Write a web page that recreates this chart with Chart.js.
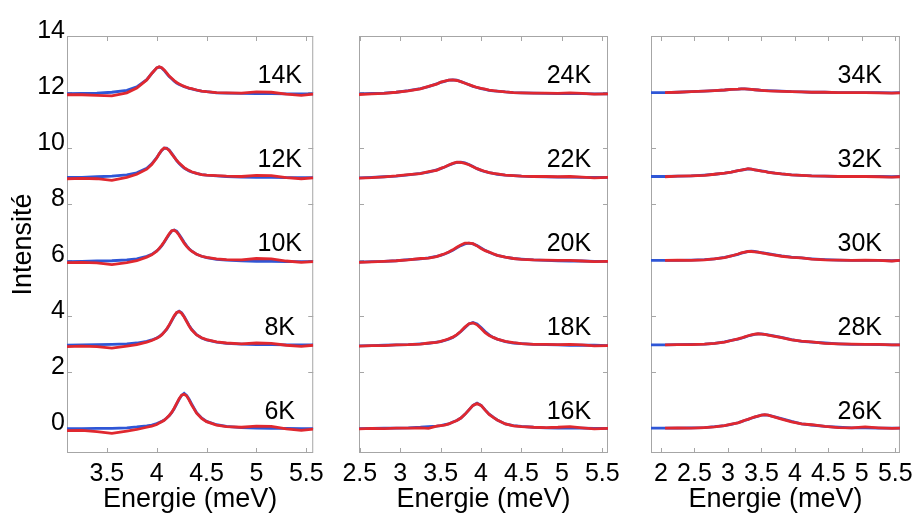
<!DOCTYPE html>
<html>
<head>
<meta charset="utf-8">
<script src="https://cdn.jsdelivr.net/npm/chart.js@4.4.0/dist/chart.umd.min.js"></script>
<style>
  body { margin: 0; background: #fff; }
  #wrap { position: relative; width: 919px; height: 514px; }
  canvas { position: absolute; top: 0; }
</style>
</head>
<body>
<div id="wrap">
  <canvas id="p1" width="330" height="514" style="left:0px"></canvas>
  <canvas id="p2" width="300" height="514" style="left:330px"></canvas>
  <canvas id="p3" width="289" height="514" style="left:630px"></canvas>
</div>
<script>
// vertical shift of each spectrum (waterfall)
const offsets = [0, 3, 6, 9, 12];
const yTicks = [0, 2, 4, 6, 8, 10, 12, 14];

// ---- panel 1 : 6K .. 14K
const temps1 = ['6K', '8K', '10K', '12K', '14K'];
const xTicks1 = [3.5, 4, 4.5, 5, 5.5];
const energies1 = [3.1, 3.25, 3.4, 3.55, 3.7, 3.8, 3.9, 3.95, 4.0,
  4.025, 4.05, 4.075, 4.1, 4.125, 4.15, 4.175, 4.2, 4.225, 4.25, 4.275, 4.3, 4.325, 4.35,
  4.4, 4.45, 4.5, 4.6, 4.7, 4.85, 5.0, 5.15, 5.3, 5.45, 5.57];
const fit1 = [
  [-0.03, -0.03, -0.02, -0.02, 0.0, 0.03, 0.07, 0.1, 0.15,
   0.19, 0.23, 0.28, 0.35, 0.43, 0.54, 0.68, 0.85, 1.02, 1.16, 1.23, 1.16, 1.02, 0.85,
   0.54, 0.35, 0.23, 0.11, 0.05, 0.01, -0.01, -0.02, -0.02, -0.03, -0.03],
  [-0.05, -0.04, -0.03, -0.02, 0.0, 0.03, 0.09, 0.14, 0.21,
   0.26, 0.33, 0.42, 0.52, 0.66, 0.82, 0.98, 1.11, 1.17, 1.11, 0.98, 0.82, 0.66, 0.52,
   0.33, 0.21, 0.14, 0.06, 0.02, -0.01, -0.03, -0.03, -0.04, -0.04, -0.04],
  [-0.06, -0.05, -0.04, -0.03, 0.0, 0.04, 0.13, 0.2, 0.32,
   0.4, 0.5, 0.63, 0.77, 0.91, 1.03, 1.07, 1.03, 0.91, 0.77, 0.63, 0.5, 0.4, 0.32,
   0.2, 0.13, 0.08, 0.02, -0.01, -0.03, -0.05, -0.05, -0.06, -0.06, -0.06],
  [-0.05, -0.05, -0.03, -0.01, 0.04, 0.11, 0.27, 0.43, 0.65,
   0.79, 0.91, 0.99, 0.99, 0.93, 0.81, 0.68, 0.55, 0.44, 0.36, 0.28, 0.23, 0.18, 0.14,
   0.09, 0.05, 0.03, 0.0, -0.02, -0.04, -0.05, -0.05, -0.06, -0.06, -0.06],
  [-0.06, -0.05, -0.04, -0.01, 0.06, 0.18, 0.44, 0.66, 0.86,
   0.89, 0.86, 0.77, 0.66, 0.55, 0.47, 0.39, 0.32, 0.27, 0.23, 0.19, 0.16, 0.13, 0.11,
   0.07, 0.03, 0.01, -0.03, -0.04, -0.05, -0.06, -0.06, -0.07, -0.07, -0.07]
];
const data1 = [
  [-0.1, -0.09, -0.14, -0.2, -0.12, -0.06, 0.02, 0.06, 0.12,
   0.17, 0.22, 0.27, 0.35, 0.44, 0.55, 0.7, 0.87, 1.04, 1.17, 1.2, 1.14, 0.99, 0.82,
   0.52, 0.34, 0.22, 0.1, 0.04, 0.02, 0.06, 0.05, -0.04, -0.09, -0.05],
  [-0.1, -0.08, -0.1, -0.15, -0.08, -0.03, 0.06, 0.12, 0.2,
   0.25, 0.32, 0.42, 0.53, 0.67, 0.84, 1.0, 1.12, 1.15, 1.09, 0.96, 0.8, 0.64, 0.5,
   0.32, 0.22, 0.15, 0.07, 0.03, 0.0, 0.03, 0.02, -0.05, -0.09, -0.05],
  [-0.1, -0.09, -0.11, -0.17, -0.1, -0.03, 0.1, 0.18, 0.31,
   0.41, 0.52, 0.65, 0.79, 0.93, 1.04, 1.06, 1.0, 0.88, 0.74, 0.6, 0.48, 0.39, 0.31,
   0.2, 0.13, 0.09, 0.04, 0.01, 0.0, 0.05, 0.04, -0.04, -0.09, -0.06],
  [-0.1, -0.09, -0.1, -0.16, -0.05, 0.06, 0.24, 0.41, 0.64,
   0.79, 0.92, 1.0, 0.98, 0.91, 0.79, 0.67, 0.56, 0.46, 0.38, 0.3, 0.24, 0.19, 0.15,
   0.09, 0.05, 0.03, 0.01, -0.01, -0.02, 0.02, 0.01, -0.06, -0.1, -0.07],
  [-0.1, -0.1, -0.12, -0.14, -0.03, 0.14, 0.43, 0.66, 0.86,
   0.9, 0.87, 0.79, 0.68, 0.57, 0.49, 0.41, 0.34, 0.29, 0.24, 0.2, 0.17, 0.14, 0.12,
   0.07, 0.03, 0.01, -0.02, -0.03, -0.04, 0.0, -0.01, -0.08, -0.12, -0.08]
];

// ---- panel 2 : 16K .. 24K
const temps2 = ['16K', '18K', '20K', '22K', '24K'];
const xTicks2 = [2.5, 3, 3.5, 4, 4.5, 5, 5.5];
const energies2 = [2.49, 2.65, 2.8, 2.95, 3.1, 3.25, 3.35, 3.45,
  3.5, 3.55, 3.6, 3.65, 3.7, 3.75, 3.8, 3.85, 3.9, 3.95, 4.0, 4.05, 4.1, 4.15, 4.2,
  4.3, 4.4, 4.5, 4.65, 4.8, 4.95, 5.1, 5.25, 5.4, 5.57];
const fit2 = [
  [-0.03, -0.02, -0.01, -0.01, 0.0, 0.02, 0.04, 0.06,
   0.08, 0.11, 0.14, 0.21, 0.26, 0.35, 0.48, 0.64, 0.8, 0.88, 0.8, 0.64, 0.49, 0.38, 0.28,
   0.14, 0.08, 0.05, 0.02, 0.0, -0.01, -0.01, -0.01, -0.02, -0.02],
  [-0.07, -0.06, -0.05, -0.04, -0.03, 0.0, 0.02, 0.06,
   0.08, 0.12, 0.17, 0.23, 0.32, 0.44, 0.58, 0.71, 0.76, 0.71, 0.58, 0.44, 0.32, 0.23, 0.17,
   0.08, 0.03, 0.01, -0.02, -0.03, -0.04, -0.05, -0.05, -0.05, -0.06],
  [-0.08, -0.06, -0.05, -0.03, 0.01, 0.04, 0.07, 0.13,
   0.16, 0.21, 0.27, 0.34, 0.43, 0.51, 0.57, 0.6, 0.57, 0.51, 0.43, 0.34, 0.27, 0.21, 0.16,
   0.1, 0.05, 0.03, 0.0, -0.02, -0.03, -0.04, -0.04, -0.05, -0.05],
  [-0.07, -0.05, -0.03, -0.01, 0.04, 0.09, 0.14, 0.22,
   0.26, 0.32, 0.38, 0.44, 0.48, 0.49, 0.47, 0.41, 0.34, 0.26, 0.2, 0.15, 0.12, 0.09, 0.06,
   0.03, 0.01, -0.01, -0.02, -0.03, -0.04, -0.04, -0.05, -0.05, -0.05],
  [-0.07, -0.05, -0.04, -0.01, 0.05, 0.12, 0.19, 0.29,
   0.34, 0.38, 0.42, 0.43, 0.42, 0.37, 0.32, 0.26, 0.2, 0.16, 0.12, 0.09, 0.06, 0.04, 0.03,
   0.0, -0.02, -0.03, -0.04, -0.05, -0.06, -0.06, -0.06, -0.07, -0.07]
];
const data2 = [
  [-0.04, -0.02, -0.03, -0.01, -0.01, 0.0, -0.02, 0.06,
   0.08, 0.1, 0.14, 0.2, 0.26, 0.35, 0.48, 0.64, 0.8, 0.87, 0.8, 0.63, 0.48, 0.37, 0.28,
   0.14, 0.07, 0.04, 0.02, 0.01, 0.02, 0.04, 0.0, -0.04, -0.02],
  [-0.08, -0.06, -0.06, -0.04, -0.03, -0.01, 0.03, 0.05,
   0.09, 0.13, 0.18, 0.24, 0.33, 0.45, 0.6, 0.72, 0.75, 0.68, 0.55, 0.4, 0.3, 0.23, 0.17,
   0.09, 0.04, 0.01, -0.02, -0.02, -0.03, -0.02, -0.04, -0.07, -0.06],
  [-0.09, -0.07, -0.05, -0.03, 0.0, 0.05, 0.06, 0.12,
   0.17, 0.22, 0.28, 0.36, 0.45, 0.53, 0.6, 0.6, 0.58, 0.5, 0.41, 0.33, 0.28, 0.22, 0.16,
   0.1, 0.05, 0.02, 0.0, -0.01, -0.02, -0.02, -0.04, -0.06, -0.05],
  [-0.08, -0.06, -0.03, 0.0, 0.05, 0.08, 0.15, 0.2,
   0.27, 0.32, 0.39, 0.45, 0.49, 0.48, 0.45, 0.4, 0.33, 0.26, 0.21, 0.16, 0.12, 0.09, 0.07,
   0.03, 0.01, -0.01, -0.02, -0.02, -0.03, -0.02, -0.04, -0.07, -0.05],
  [-0.09, -0.07, -0.05, -0.01, 0.04, 0.11, 0.2, 0.28,
   0.35, 0.39, 0.42, 0.43, 0.41, 0.37, 0.31, 0.26, 0.21, 0.16, 0.13, 0.1, 0.07, 0.05, 0.03,
   0.0, -0.02, -0.03, -0.04, -0.04, -0.05, -0.03, -0.05, -0.08, -0.07]
];

// ---- panel 3 : 26K .. 34K
const temps3 = ['26K', '28K', '30K', '32K', '34K'];
const xTicks3 = [2, 2.5, 3, 3.5, 4, 4.5, 5, 5.5];
const energies3 = [1.85, 2.06, 2.25, 2.45, 2.65, 2.8, 2.95, 3.05, 3.15,
  3.2, 3.25, 3.3, 3.35, 3.4, 3.45, 3.5, 3.55, 3.6,
  3.7, 3.8, 3.95, 4.1, 4.25, 4.45, 4.65, 4.85, 5.05, 5.25, 5.45, 5.57];
const fit3 = [
  [-0.01, -0.01, -0.01, 0.0, 0.01, 0.04, 0.08, 0.12, 0.18,
   0.22, 0.26, 0.3, 0.34, 0.38, 0.42, 0.45, 0.46, 0.45,
   0.39, 0.33, 0.23, 0.14, 0.1, 0.05, 0.02, 0.0, 0.0, -0.01, -0.01, -0.01],
  [-0.04, -0.04, -0.03, -0.02, -0.01, 0.02, 0.07, 0.12, 0.17,
   0.2, 0.24, 0.28, 0.31, 0.34, 0.36, 0.36, 0.34, 0.32,
   0.28, 0.23, 0.15, 0.09, 0.06, 0.03, 0.0, -0.02, -0.02, -0.03, -0.04, -0.04],
  [-0.02, -0.02, -0.02, -0.01, 0.01, 0.04, 0.09, 0.14, 0.2,
   0.24, 0.27, 0.3, 0.31, 0.3, 0.28, 0.26, 0.24, 0.22,
   0.18, 0.14, 0.1, 0.07, 0.04, 0.01, -0.01, -0.02, -0.02, -0.02, -0.03, -0.02],
  [-0.02, -0.02, -0.01, 0.0, 0.03, 0.06, 0.1, 0.14, 0.19,
   0.21, 0.23, 0.25, 0.24, 0.22, 0.2, 0.18, 0.16, 0.14,
   0.1, 0.07, 0.04, 0.02, 0.0, -0.01, -0.02, -0.02, -0.02, -0.02, -0.03, -0.02],
  [-0.02, -0.02, -0.01, 0.01, 0.03, 0.05, 0.07, 0.09, 0.1,
   0.11, 0.11, 0.1, 0.09, 0.08, 0.07, 0.06, 0.05, 0.05,
   0.04, 0.03, 0.01, 0.0, -0.01, -0.01, -0.02, -0.02, -0.02, -0.02, -0.03, -0.02]
];
const data3 = [
  [null, -0.01, 0.0, -0.01, 0.01, 0.03, 0.08, 0.13, 0.18,
   0.22, 0.27, 0.3, 0.35, 0.39, 0.42, 0.45, 0.47, 0.45,
   0.38, 0.31, 0.21, 0.14, 0.11, 0.05, 0.01, 0.0, 0.03, 0.0, -0.02, -0.01],
  [null, -0.04, -0.03, -0.03, -0.01, 0.02, 0.06, 0.12, 0.18,
   0.21, 0.25, 0.29, 0.32, 0.35, 0.36, 0.35, 0.34, 0.31,
   0.27, 0.22, 0.14, 0.1, 0.07, 0.02, 0.0, -0.01, -0.02, -0.02, -0.04, -0.04],
  [null, -0.02, -0.01, -0.02, 0.0, 0.04, 0.08, 0.14, 0.21,
   0.25, 0.28, 0.3, 0.3, 0.29, 0.28, 0.25, 0.23, 0.21,
   0.17, 0.13, 0.09, 0.07, 0.03, 0.0, -0.01, -0.02, -0.01, -0.02, -0.04, -0.02],
  [null, -0.03, -0.01, 0.0, 0.02, 0.06, 0.1, 0.14, 0.19,
   0.21, 0.23, 0.26, 0.24, 0.22, 0.2, 0.17, 0.16, 0.13,
   0.1, 0.07, 0.04, 0.02, 0.0, -0.01, -0.02, -0.02, -0.02, -0.03, -0.04, -0.03],
  [null, -0.02, -0.01, 0.01, 0.03, 0.05, 0.07, 0.09, 0.1,
   0.11, 0.11, 0.1, 0.09, 0.08, 0.07, 0.06, 0.05, 0.04,
   0.03, 0.02, 0.01, 0.0, -0.01, -0.01, -0.02, -0.02, -0.02, -0.03, -0.04, -0.03]
];

const BLUE = '#2f56d6';
const RED = '#e0282f';
const FRAME = '#a6a6a6';
const FONT = '"Liberation Sans", Arial, sans-serif';
Chart.defaults.font.family = FONT;
Chart.defaults.color = '#000';

// box around the axes, inward ticks on all four sides, temperature labels
const framePlugin = {
  id: 'frame',
  beforeDatasetsDraw(chart, args, opts) {
    const { ctx, chartArea: a, scales: { x, y } } = chart;
    ctx.save();
    ctx.strokeStyle = FRAME;
    ctx.lineWidth = 1;
    ctx.strokeRect(a.left + 0.5, a.top + 0.5, a.right - a.left - 1, a.bottom - a.top - 1);
    ctx.beginPath();
    opts.xTicks.forEach(v => {
      const px = Math.round(x.getPixelForValue(v)) + 0.5;
      ctx.moveTo(px, a.bottom); ctx.lineTo(px, a.bottom - 5);
      ctx.moveTo(px, a.top); ctx.lineTo(px, a.top + 5);
    });
    yTicks.forEach(v => {
      const py = Math.round(y.getPixelForValue(v)) + 0.5;
      ctx.moveTo(a.left, py); ctx.lineTo(a.left + 5, py);
      ctx.moveTo(a.right, py); ctx.lineTo(a.right - 5, py);
    });
    ctx.stroke();
    ctx.restore();
  },
  afterDraw(chart, args, opts) {
    const { ctx, scales: { x, y } } = chart;
    ctx.save();
    ctx.fillStyle = '#000';
    ctx.font = '25px ' + FONT;
    ctx.textAlign = 'center';
    ctx.textBaseline = 'middle';
    opts.labels.forEach((t, i) => {
      ctx.fillText(t, x.getPixelForValue(opts.labelX), y.getPixelForValue(offsets[i] + 0.57));
    });
    ctx.restore();
  }
};

function makePanel(cfg) {
  const datasets = [];
  cfg.temps.forEach((t, i) => {
    datasets.push({
      label: t + ' mesure',
      data: cfg.energies.map((e, k) => ({ x: e, y: cfg.meas[i][k] === null ? null : cfg.meas[i][k] + offsets[i] })),
      borderColor: RED,
      borderWidth: 2.8,
      pointRadius: 0,
      tension: 0,
      order: 1
    });
    datasets.push({
      label: t + ' fit',
      data: cfg.energies.map((e, k) => ({ x: e, y: cfg.fits[i][k] + offsets[i] })),
      borderColor: BLUE,
      borderWidth: 2.8,
      pointRadius: 0,
      tension: 0,
      order: 2
    });
  });

  new Chart(document.getElementById(cfg.id), {
    type: 'line',
    data: { datasets },
    options: {
      responsive: false,
      animation: false,
      layout: { padding: cfg.padding, autoPadding: false },
      plugins: {
        legend: { display: false },
        tooltip: { enabled: false },
        frame: { labels: cfg.temps, labelX: cfg.labelX, xTicks: cfg.xTicks }
      },
      scales: {
        x: {
          type: 'linear',
          min: cfg.min,
          max: cfg.max,
          grid: { display: false, drawTicks: false },
          border: { display: false },
          afterBuildTicks: s => { s.ticks = cfg.xTicks.map(v => ({ value: v })); },
          afterFit: s => { s.height = 61; },
          ticks: { font: { size: 25 }, padding: 6, maxRotation: 0, autoSkip: false, callback: v => String(v) },
          title: { display: true, text: 'Energie (meV)', font: { size: 27 }, padding: { top: 0, bottom: -2 } }
        },
        y: {
          type: 'linear',
          display: cfg.showY,
          min: -0.9,
          max: 14,
          grid: { display: false, drawTicks: false },
          border: { display: false },
          afterBuildTicks: s => { s.ticks = yTicks.map(v => ({ value: v })); },
          afterFit: s => { s.width = cfg.showY ? 67 : 0; },
          ticks: { font: { size: 25 }, padding: 2, labelOffset: -5, callback: v => String(v) },
          title: { display: true, text: 'Intensité', font: { size: 27 }, padding: { top: 7, bottom: 0 } }
        }
      }
    },
    plugins: [framePlugin]
  });
}

makePanel({ id: 'p1', temps: temps1, energies: energies1, fits: fit1, meas: data1, xTicks: xTicks1,
  min: 3.1, max: 5.57, labelX: 5.234, showY: true, padding: { top: 36, right: 13, bottom: 0, left: 0 } });
makePanel({ id: 'p2', temps: temps2, energies: energies2, fits: fit2, meas: data2, xTicks: xTicks2,
  min: 2.49, max: 5.57, labelX: 5.086, showY: false, padding: { top: 36, right: 22, bottom: 0, left: 29 } });
makePanel({ id: 'p3', temps: temps3, energies: energies3, fits: fit3, meas: data3, xTicks: xTicks3,
  min: 1.85, max: 5.57, labelX: 4.97, showY: false, padding: { top: 36, right: 19, bottom: 0, left: 21 } });
</script>
</body>
</html>
